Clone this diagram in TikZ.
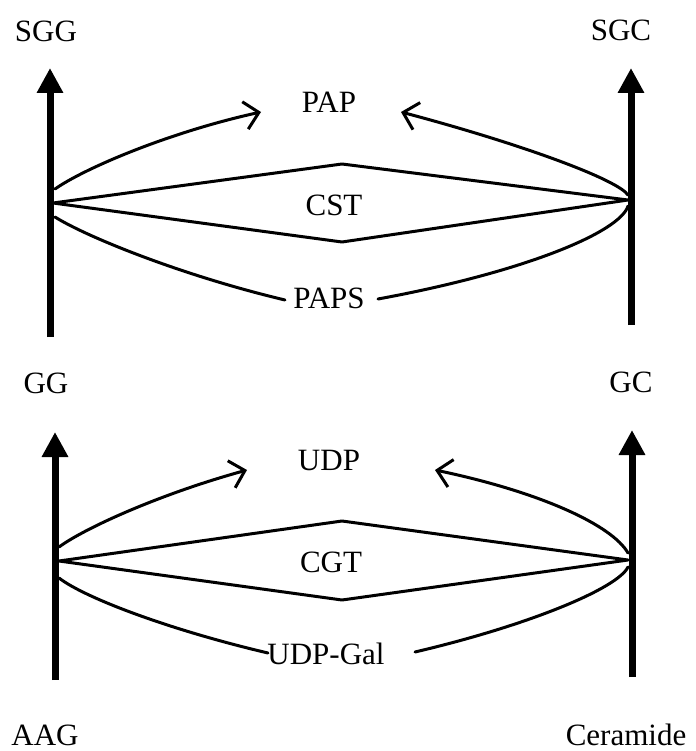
\documentclass[tikz,border=0pt]{standalone}
\usepackage{fontspec}
\setmainfont{Liberation Serif}
\usetikzlibrary{arrows.meta}
\begin{document}
\begin{tikzpicture}[x=1pt,y=-1pt,
  lbl/.style={font=\fontsize{31}{37}\selectfont, inner sep=0pt, anchor=base},
  route/.style={line width=3pt, line cap=round, line join=round},
  flow/.style={route, -{Straight Barb[length=14pt,width=28pt,line width=3pt]}},
  axis/.style={line width=7pt, -{Triangle[length=25pt,width=25pt]}}]
\useasboundingbox (0,0) rectangle (695,751);

% ---------- labels ----------
\node[lbl] (sgg) at (46,42) {SGG};
\node[lbl] (sgc) at (621,41) {SGC};
\node[lbl] (pap) at (329,113) {PAP};
\node[lbl] (cst) at (334,215) {CST};
\node[lbl] (paps) at (329,308) {PAPS};
\node[lbl] (gg) at (46,393) {GG};
\node[lbl] (gc) at (631,392) {GC};
\node[lbl] (udp) at (329,470) {UDP};
\node[lbl] (cgt) at (331,572) {CGT};
\node[lbl] (udpgal) at (326,664) {UDP-Gal};
\node[lbl] (aag) at (45,745) {AAG};
\node[lbl] (cer) at (626,745) {Ceramide};

% ---------- upper reaction: GG -> SGG, GC -> SGC ----------
\coordinate (ax1b) at (50,337);  \coordinate (ax1t) at (50,68);
\coordinate (ax2b) at (631,325); \coordinate (ax2t) at (631,68);
\draw[axis] (ax1b) -- (ax1t);
\draw[axis] (ax2b) -- (ax2t);

\coordinate (l1) at (53,203);  \coordinate (r1) at (628,200);
\coordinate (cstT) at (342,164); \coordinate (cstB) at (342,242);
\draw[route] (l1) -- (cstT) -- (r1) -- (cstB) -- cycle;

\coordinate (papL0) at (55,189);  \coordinate (papL1) at (261,112);
\coordinate (papR0) at (628,195); \coordinate (papR1) at (401,112);
\draw[flow] (papL0) .. controls (85,168) and (170,132) .. (papL1);
\draw[flow] (papR0) .. controls (618,180) and (525,145) .. (papR1);

\coordinate (papsL0) at (55,217);  \coordinate (papsL1) at (285,300);
\coordinate (papsR0) at (628,206); \coordinate (papsR1) at (378,299);
\draw[route] (papsL0) .. controls (85,236) and (180,275) .. (papsL1);
\draw[route] (papsR0) .. controls (620,232) and (525,272) .. (papsR1);

% ---------- lower reaction: AAG -> GG, Ceramide -> GC ----------
\coordinate (ax3b) at (55,680);  \coordinate (ax3t) at (55,432);
\coordinate (ax4b) at (632,677); \coordinate (ax4t) at (632,430);
\draw[axis] (ax3b) -- (ax3t);
\draw[axis] (ax4b) -- (ax4t);

\coordinate (l2) at (59,561);  \coordinate (r2) at (628,560);
\coordinate (cgtT) at (342,521); \coordinate (cgtB) at (342,600);
\draw[route] (l2) -- (cgtT) -- (r2) -- (cgtB) -- cycle;

\coordinate (udpL0) at (59,547);  \coordinate (udpL1) at (247,470);
\coordinate (udpR0) at (628,553); \coordinate (udpR1) at (435,470);
\draw[flow] (udpL0) .. controls (85,528) and (160,494) .. (udpL1);
\draw[flow] (udpR0) .. controls (612,525) and (540,492) .. (udpR1);

\coordinate (galL0) at (59,578);  \coordinate (galL1) at (268,653);
\coordinate (galR0) at (628,567); \coordinate (galR1) at (415,652);
\draw[route] (galL0) .. controls (85,598) and (170,630) .. (galL1);
\draw[route] (galR0) .. controls (618,588) and (530,625) .. (galR1);
\end{tikzpicture}
\end{document}
